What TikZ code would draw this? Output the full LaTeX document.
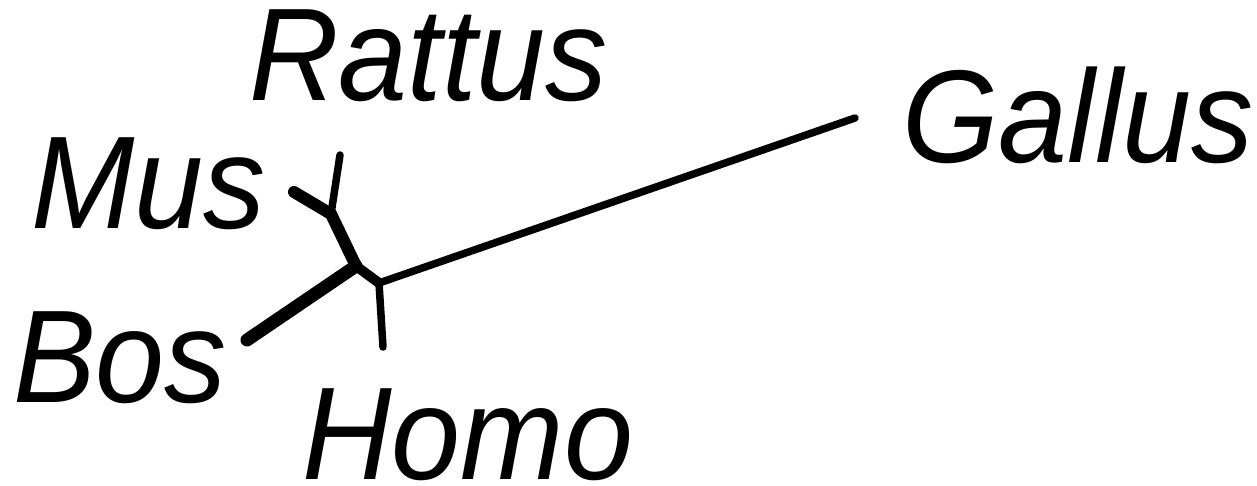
\documentclass[tikz,border=0pt]{standalone}
\usepackage{fontspec}
\setmainfont{Liberation Sans}
\newcommand{\sqz}[1]{\scalebox{0.94}[1]{#1}}
\begin{document}
\begin{tikzpicture}[x=1pt,y=-1pt,
  lbl/.style={anchor=base west,inner sep=0pt,font=\fontsize{132}{132}\selectfont\itshape},
  thin/.style={line width=7.5pt,line cap=round,line join=round},
  thick/.style={line width=12pt,line cap=round,line join=round}]
\useasboundingbox (0,0) rectangle (1257,485);
\node[lbl] (rattus) at (249,100) {\sqz{Rattus}};
\node[lbl] (mus) at (31,228) {\sqz{Mus}};
\node[lbl] (gallus) at (902,162) {\sqz{Gallus}};
\node[lbl] (bos) at (13,402) {\sqz{Bos}};
\node[lbl] (homo) at (302,479) {\sqz{Homo}};
\coordinate (tR) at (340,155);
\coordinate (tM) at (294,192);
\coordinate (tB) at (247,340);
\coordinate (tH) at (383,347);
\coordinate (tG) at (855,118);
\coordinate (nMR) at (331,214);
\coordinate (nA) at (356,266);
\coordinate (nB) at (379,283);
\draw[thin] (tR) -- (nMR);
\draw[thick] (tM) -- (nMR);
\draw[thick] (nMR) -- (nA);
\draw[thick,line width=13pt] (tB) -- (nA);
\draw[thick,line width=10pt] (nA) -- (nB);
\draw[thin] (nB) -- (tH);
\draw[thin] (nB) -- (tG);
\end{tikzpicture}
\end{document}
